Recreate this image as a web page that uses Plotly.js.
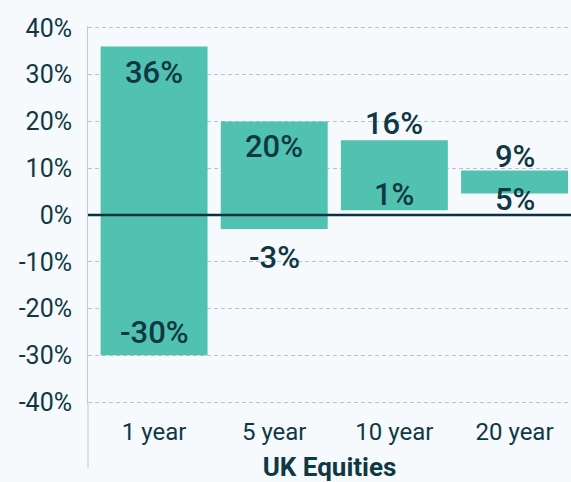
<!DOCTYPE html>
<html><head><meta charset="utf-8">
<script src="https://cdn.plot.ly/plotly-3.0.1.min.js"></script>
<style>html,body{margin:0;padding:0;background:#f6fafc;overflow:hidden}</style>
</head><body><div id="chart" style="width:571px;height:482px"></div>
<script>
const categories = ['1 year', '5 year', '10 year', '20 year'];
const lowValues = [-30, -3, 1, 4.6];
const highValues = [36, 20, 16, 9.5];
const lowLabels = ['-30%', '-3%', '1%', '5%'];
const highLabels = ['36%', '20%', '16%', '9%'];
const yTickValues = [-40, -30, -20, -10, 0, 10, 20, 30, 40];
const yTickLabels = ['-40%', '-30%', '-20%', '-10%', '0%', '10%', '20%', '30%', '40%'];

// label pixel offsets (styling)
const highShift = [-26, -25, 17, 14];
const lowShift = [23, -28, 16, -6];

const txtColor = '#0f3845';
const annotations = [];
categories.forEach((c, i) => {
  annotations.push({x: c, y: highValues[i], text: highLabels[i], showarrow: false, yshift: highShift[i],
    yanchor: 'middle', font: {family: 'Roboto', size: 31, color: txtColor, weight: 500}});
  annotations.push({x: c, y: lowValues[i], text: lowLabels[i], showarrow: false, yshift: lowShift[i],
    yanchor: 'middle', font: {family: 'Roboto', size: 31, color: txtColor, weight: 500}});
});

const trace = {
  type: 'bar', x: categories,
  y: highValues.map((h, i) => h - lowValues[i]),
  base: lowValues,
  marker: {color: '#52c2b0'},
  hoverinfo: 'skip'
};

const layout = {
  width: 571, height: 482,
  margin: {l: 88, r: 0, t: 26, b: 78},
  paper_bgcolor: '#f6fafc', plot_bgcolor: '#f6fafc',
  bargap: 0.11,
  showlegend: false,
  font: {family: 'Roboto', color: txtColor},
  xaxis: {
    type: 'category', range: [-0.55, 3.47],
    showgrid: false, zeroline: false, showline: false,
    ticks: 'outside', ticklen: 6, tickcolor: 'rgba(0,0,0,0)',
    tickfont: {family: 'Roboto', size: 24, color: txtColor},
    title: {text: '<b>UK Equities</b>', font: {family: 'Roboto', size: 26, color: txtColor}, standoff: 13}
  },
  yaxis: {
    range: [-40.4, 40.4], tickvals: yTickValues, ticktext: yTickLabels,
    showgrid: true, gridcolor: '#b8bfd3', griddash: '4px,3px', gridwidth: 1,
    zeroline: false, showline: true, linecolor: '#c3c8d6', linewidth: 1,
    ticks: 'outside', ticklen: 10, tickcolor: 'rgba(0,0,0,0)',
    tickfont: {family: 'Roboto', size: 25, color: txtColor}
  },
  shapes: [
    {type: 'line', xref: 'paper', yref: 'y', x0: 0, x1: 1, y0: 0, y1: 0, layer: 'above',
      line: {color: '#0d3340', width: 2.5}},
    {type: 'line', xref: 'paper', yref: 'paper', x0: 0, x1: 0, y0: -0.17, y1: 0, layer: 'below',
      line: {color: '#c3c8d6', width: 1}}
  ],
  annotations: annotations
};

Plotly.newPlot('chart', [trace], layout, {displayModeBar: false, staticPlot: true});
</script></body></html>
